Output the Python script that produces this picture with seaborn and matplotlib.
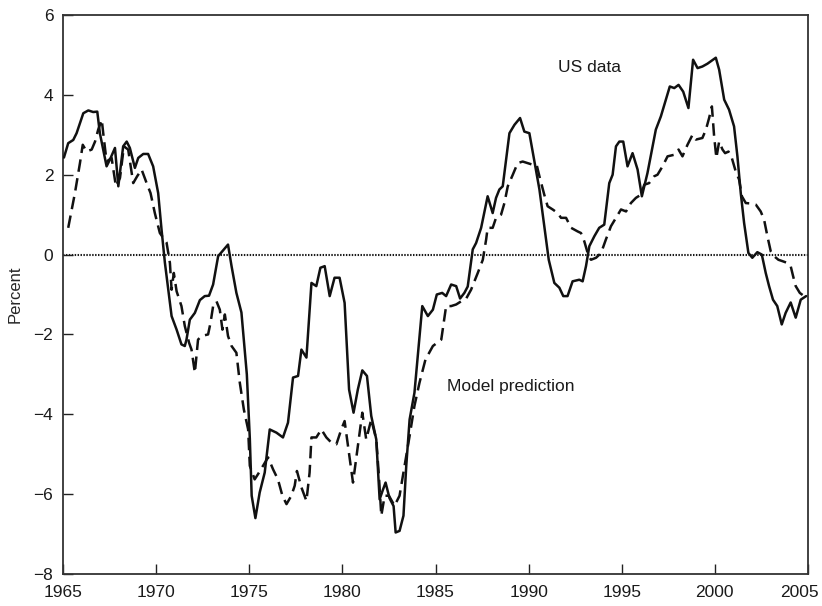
import numpy as np
import pandas as pd
import matplotlib
matplotlib.use("Agg")
import matplotlib.pyplot as plt
import matplotlib.transforms as mtransforms
import seaborn as sns

# ---- data ----
us_years = [1965.05, 1965.28, 1965.55, 1965.73, 1966.09, 1966.36, 1966.62, 1966.84, 1966.98,
            1967.16, 1967.34, 1967.52, 1967.79, 1967.97, 1968.23, 1968.42, 1968.59, 1968.86,
            1969.04, 1969.31, 1969.57, 1969.84, 1970.11, 1970.29, 1970.47, 1970.83, 1971.10,
            1971.36, 1971.54, 1971.63, 1971.81, 1972.08, 1972.35, 1972.61, 1972.84, 1973.06,
            1973.33, 1973.86, 1974.05, 1974.31, 1974.58, 1974.76, 1974.87, 1975.03, 1975.13,
            1975.33, 1975.56, 1975.83, 1976.10, 1976.46, 1976.81, 1977.08, 1977.35, 1977.62,
            1977.80, 1978.07, 1978.34, 1978.60, 1978.82, 1979.05, 1979.32, 1979.58, 1979.85,
            1980.12, 1980.36, 1980.60, 1980.83, 1981.07, 1981.32, 1981.55, 1981.82, 1982.00,
            1982.17, 1982.32, 1982.53, 1982.75, 1982.86, 1983.07, 1983.28, 1983.43, 1983.61,
            1983.87, 1984.29, 1984.59, 1984.86, 1985.07, 1985.36, 1985.57, 1985.84, 1986.11,
            1986.32, 1986.55, 1986.73, 1987.00, 1987.18, 1987.45, 1987.80, 1988.07, 1988.25,
            1988.43, 1988.61, 1988.97, 1989.24, 1989.54, 1989.77, 1990.04, 1990.31, 1990.58,
            1990.84, 1991.08, 1991.38, 1991.65, 1991.86, 1992.09, 1992.36, 1992.72, 1992.90,
            1993.08, 1993.26, 1993.53, 1993.79, 1994.06, 1994.33, 1994.51, 1994.69, 1994.87,
            1995.08, 1995.31, 1995.58, 1995.85, 1996.08, 1996.38, 1996.83, 1997.10, 1997.37,
            1997.58, 1997.82, 1998.05, 1998.30, 1998.58, 1998.83, 1999.07, 1999.33, 1999.60,
            2000.05, 2000.23, 2000.50, 2000.76, 2001.03, 2001.21, 2001.39, 2001.57, 2001.80,
            2002.01, 2002.28, 2002.52, 2002.73, 2002.91, 2003.12, 2003.35, 2003.59, 2003.80,
            2004.07, 2004.34, 2004.61, 2004.90]
us_values = [2.43, 2.79, 2.87, 3.04, 3.54, 3.61, 3.57, 3.58, 3.04,
             2.62, 2.21, 2.38, 2.67, 1.71, 2.71, 2.83, 2.67, 2.17,
             2.42, 2.52, 2.52, 2.21, 1.54, 0.63, -0.20, -1.54, -1.88,
             -2.25, -2.29, -2.13, -1.63, -1.46, -1.14, -1.04, -1.03, -0.75,
             -0.04, 0.25, -0.29, -0.96, -1.45, -2.40, -3.00, -4.60, -6.04,
             -6.60, -5.96, -5.46, -4.38, -4.46, -4.58, -4.21, -3.08, -3.04,
             -2.38, -2.58, -0.71, -0.79, -0.33, -0.29, -1.04, -0.58, -0.58,
             -1.21, -3.38, -3.96, -3.38, -2.90, -3.04, -4.04, -4.63, -6.13,
             -5.90, -5.71, -6.10, -6.30, -6.96, -6.92, -6.54, -5.29, -4.13,
             -3.46, -1.29, -1.54, -1.38, -1.00, -0.96, -1.04, -0.75, -0.79,
             -1.10, -0.96, -0.80, 0.13, 0.29, 0.67, 1.46, 1.04, 1.42,
             1.63, 1.71, 3.04, 3.25, 3.42, 3.08, 3.04, 2.33, 1.63,
             0.71, -0.13, -0.71, -0.83, -1.04, -1.04, -0.67, -0.63, -0.67,
             -0.29, 0.21, 0.46, 0.67, 0.75, 1.79, 2.00, 2.71, 2.83,
             2.83, 2.21, 2.54, 2.13, 1.46, 2.04, 3.13, 3.46, 3.88,
             4.21, 4.17, 4.25, 4.08, 3.67, 4.88, 4.67, 4.71, 4.78,
             4.93, 4.63, 3.88, 3.63, 3.21, 2.46, 1.54, 0.79, 0.04,
             -0.08, 0.06, 0.00, -0.46, -0.79, -1.13, -1.29, -1.75, -1.46,
             -1.20, -1.58, -1.13, -1.04]

model_years = [1965.28, 1965.64, 1965.91, 1966.06, 1966.27, 1966.54, 1966.72, 1966.89, 1967.08,
               1967.16, 1967.34, 1967.61, 1967.84, 1968.06, 1968.27, 1968.50, 1968.77, 1968.98,
               1969.22, 1969.49, 1969.70, 1969.93, 1970.20, 1970.56, 1970.74, 1970.83, 1970.95,
               1971.10, 1971.36, 1971.54, 1971.77, 1971.90, 1972.08, 1972.25, 1972.44, 1972.79,
               1972.92, 1973.06, 1973.24, 1973.42, 1973.56, 1973.69, 1973.86, 1974.05, 1974.31,
               1974.49, 1974.71, 1974.94, 1975.03, 1975.29, 1975.47, 1975.74, 1976.01, 1976.28,
               1976.54, 1976.78, 1977.00, 1977.26, 1977.44, 1977.56, 1977.80, 1978.07, 1978.24,
               1978.34, 1978.60, 1978.87, 1979.14, 1979.41, 1979.68, 1979.94, 1980.12, 1980.30,
               1980.57, 1980.83, 1981.07, 1981.28, 1981.55, 1981.82, 1981.96, 1982.09, 1982.27,
               1982.50, 1982.80, 1983.07, 1983.34, 1983.61, 1983.87, 1984.14, 1984.46, 1984.86,
               1985.31, 1985.57, 1985.84, 1986.11, 1986.38, 1986.65, 1986.91, 1987.27, 1987.54,
               1987.72, 1987.80, 1988.07, 1988.25, 1988.52, 1988.70, 1988.88, 1989.15, 1989.41,
               1989.68, 1989.95, 1990.22, 1990.43, 1990.58, 1990.84, 1991.02, 1991.29, 1991.56,
               1991.74, 1992.01, 1992.28, 1992.63, 1992.81, 1992.99, 1993.22, 1993.35, 1993.62,
               1993.89, 1994.15, 1994.42, 1994.69, 1994.96, 1995.23, 1995.49, 1995.76, 1996.03,
               1996.21, 1996.47, 1996.74, 1996.92, 1997.19, 1997.46, 1997.82, 1998.05, 1998.26,
               1998.53, 1998.80, 1998.98, 1999.33, 1999.52, 1999.69, 1999.84, 1999.96, 2000.08,
               2000.23, 2000.41, 2000.55, 2000.73, 2000.91, 2001.12, 2001.30, 2001.45, 2001.66,
               2001.93, 2002.20, 2002.46, 2002.64, 2002.82, 2003.00, 2003.18, 2003.41, 2003.66,
               2003.89, 2004.07, 2004.20, 2004.34, 2004.56, 2004.90]
model_values = [0.67, 1.54, 2.29, 2.75, 2.58, 2.63, 2.83, 3.13, 3.38,
                3.04, 2.33, 2.42, 1.71, 1.92, 2.71, 2.63, 1.79, 1.96,
                2.13, 1.79, 1.54, 1.04, 0.54, 0.30, -0.21, -0.88, -0.46,
                -0.92, -1.29, -1.79, -2.21, -2.38, -2.96, -2.13, -2.04, -2.00,
                -1.71, -1.29, -1.17, -1.38, -1.88, -1.50, -2.04, -2.29, -2.46,
                -3.20, -3.88, -4.38, -5.29, -5.63, -5.50, -5.29, -5.08, -5.38,
                -5.63, -6.04, -6.25, -6.04, -5.79, -5.42, -5.83, -6.17, -5.46,
                -4.58, -4.58, -4.38, -4.58, -4.71, -4.75, -4.38, -4.17, -4.79,
                -5.71, -4.79, -3.96, -4.63, -4.13, -4.63, -5.54, -6.54, -6.04,
                -6.04, -6.29, -6.04, -5.29, -4.54, -3.79, -3.21, -2.63, -2.29,
                -2.13, -1.29, -1.29, -1.25, -1.17, -1.10, -0.88, -0.46, -0.13,
                0.38, 0.67, 0.67, 0.92, 1.00, 1.29, 1.71, 2.00, 2.29,
                2.33, 2.29, 2.25, 2.25, 1.96, 1.50, 1.21, 1.13, 1.04,
                0.92, 0.92, 0.67, 0.58, 0.54, 0.33, -0.04, -0.13, -0.08,
                0.04, 0.38, 0.71, 0.92, 1.13, 1.08, 1.29, 1.42, 1.50,
                1.75, 1.79, 1.96, 2.00, 2.21, 2.46, 2.50, 2.63, 2.46,
                2.75, 3.00, 2.88, 2.92, 3.13, 3.42, 3.71, 2.96, 2.42,
                2.83, 2.63, 2.54, 2.58, 2.42, 2.08, 1.88, 1.46, 1.29,
                1.28, 1.25, 1.08, 0.88, 0.46, 0.08, -0.04, -0.13, -0.17,
                -0.21, -0.29, -0.54, -0.79, -0.96, -1.08]

x_ticks = [1965, 1970, 1975, 1980, 1985, 1990, 1995, 2000, 2005]
y_ticks = [-8, -6, -4, -2, 0, 2, 4, 6]

# ---- plotting ----
sns.set_style("ticks")
plt.rcParams['font.family'] = ['Liberation Sans', 'DejaVu Sans']

W, H = 822, 606
fig = plt.figure(figsize=(W / 100, H / 100), dpi=100)
ax = fig.add_axes([63 / W, 1 - 574 / H, (808 - 63) / W, (574 - 15) / H])

us_df = pd.DataFrame({"year": us_years, "value": us_values})
model_df = pd.DataFrame({"year": model_years, "value": model_values})

ax.axhline(0, color="#1a1a1a", lw=1.5, linestyle=(0, (0.7, 0.7)), zorder=1)
sns.lineplot(data=us_df, x="year", y="value", ax=ax, color="#111111", lw=1.8,
             sort=False, estimator=None, zorder=3)
sns.lineplot(data=model_df, x="year", y="value", ax=ax, color="#111111", lw=1.8,
             sort=False, estimator=None, linestyle=(0, (5.0, 2.6)), zorder=2)

ax.set_xlim(1965, 2005)
ax.set_ylim(-8, 6)
ax.set_xticks(x_ticks)
ax.set_yticks(y_ticks)
ax.set_xlabel("")
ax.set_ylabel("Percent", fontsize=12, labelpad=8)
ax.tick_params(axis="both", direction="in", length=7, width=1, colors="#222222",
               labelsize=12.5, labelcolor="#1a1a1a")
ax.tick_params(axis="x", pad=8)
ax.tick_params(axis="y", pad=7)
for s in ax.spines.values():
    s.set_visible(True)
    s.set_color("#333333")
    s.set_linewidth(1.3)

# keep the last x tick label inside the figure
last_label = ax.get_xticklabels()[-1]
last_label.set_transform(last_label.get_transform() +
                         mtransforms.ScaledTranslation(-9 / 100, 0, fig.dpi_scale_trans))

ax.text(1993.26, 4.68, "US data", ha="center", va="center", fontsize=12.5, color="#1a1a1a")
ax.text(1985.6, -3.3, "Model prediction", ha="left", va="center", fontsize=12.5, color="#1a1a1a")

fig.savefig("out.png", dpi=100)
